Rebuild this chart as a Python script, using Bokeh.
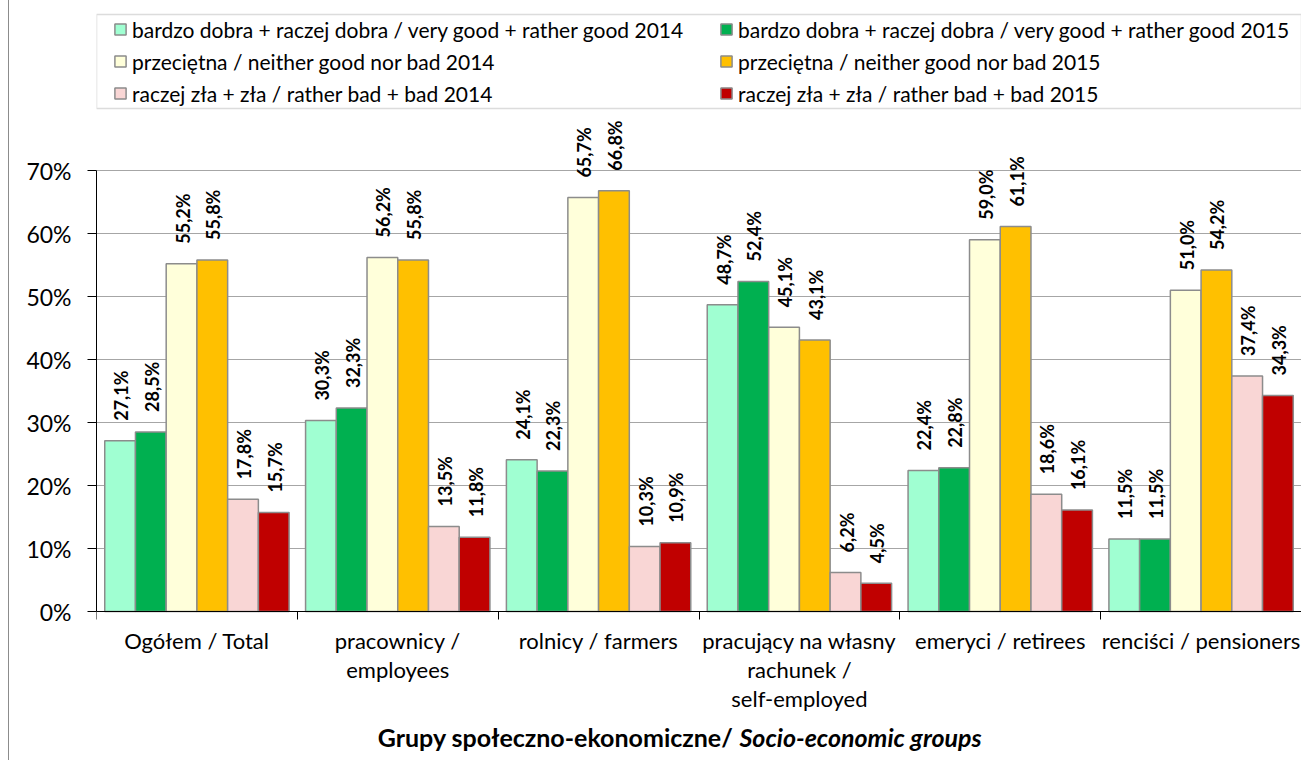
import math
from bokeh.plotting import figure
from bokeh.models import (Range1d, FixedTicker, PrintfTickFormatter, ColumnDataSource,
                          Legend, LegendItem, Label, BoxAnnotation)
from bokeh.layouts import column
from bokeh.transform import dodge
from bokeh.core.properties import value
from bokeh.embed import file_html
from bokeh.resources import INLINE

# ---------------- data ----------------
categories = [
    "Ogółem / Total",
    "pracownicy /\nemployees",
    "rolnicy / farmers",
    "pracujący na własny\nrachunek /\nself-employed",
    "emeryci / retirees",
    "renciści / pensioners",
]
good_2014 = [27.1, 30.3, 24.1, 48.7, 22.4, 11.5]
good_2015 = [28.5, 32.3, 22.3, 52.4, 22.8, 11.5]
neutral_2014 = [55.2, 56.2, 65.7, 45.1, 59.0, 51.0]
neutral_2015 = [55.8, 55.8, 66.8, 43.1, 61.1, 54.2]
bad_2014 = [17.8, 13.5, 10.3, 6.2, 18.6, 37.4]
bad_2015 = [15.7, 11.8, 10.9, 4.5, 16.1, 34.3]

series_names = [
    "bardzo dobra + raczej dobra / very good + rather good 2014",
    "bardzo dobra + raczej dobra / very good + rather good 2015",
    "przeciętna / neither good nor bad 2014",
    "przeciętna / neither good nor bad 2015",
    "raczej zła + zła / rather bad + bad 2014",
    "raczej zła + zła / rather bad + bad 2015",
]
series_values = [good_2014, good_2015, neutral_2014, neutral_2015, bad_2014, bad_2015]
colors = ["#A0FFD2", "#00B050", "#FFFFDA", "#FFC000", "#F9D6D5", "#C00000"]
y_ticks = [0, 10, 20, 30, 40, 50, 60, 70]
y_max = 70
x_title_bold = "Grupy społeczno-ekonomiczne/"
x_title_italic = "Socio-economic groups"

# ---------------- layout constants (pixels) ----------------
FONT = "Lato"
EDGE = "#8c8c8c"
BW = 0.153                 # bar width as a fraction of a group
FRAME_LEFT_PX = 96         # page x of plot-area left edge
FRAME_W = 1205
FRAME_TOP_PX = 12          # page y of frame top
ZERO_PX = 611              # page y of the 0% line
TOP_PX = 170               # page y of the 70% line
FRAME_BOTTOM_PX = 755
PXU = (ZERO_PX - TOP_PX) / y_max   # pixels per percent

n = len(categories)
GROUP_PX = FRAME_W / n


def ypx(py):
    return (ZERO_PX - py) / PXU


def xpx(px):
    return (px - FRAME_LEFT_PX) / GROUP_PX


centers = [i + 0.5 for i in range(n)]
boundaries = [float(i) for i in range(n + 1)]

data = {"x": centers, "cat": categories, "zero": [0] * n}
for j, vals in enumerate(series_values):
    data[f"s{j}"] = vals
    data[f"l{j}"] = [f"{v:.1f}".replace(".", ",") + "%" for v in vals]
src = ColumnDataSource(data)

p = figure(frame_width=FRAME_W, frame_height=FRAME_BOTTOM_PX - FRAME_TOP_PX,
           x_range=Range1d(0, n), y_range=Range1d(ypx(FRAME_BOTTOM_PX), ypx(FRAME_TOP_PX)),
           output_backend="svg", toolbar_location=None,
           min_border_left=FRAME_LEFT_PX - 9, min_border_right=0,
           min_border_top=FRAME_TOP_PX, min_border_bottom=5)
p.outline_line_color = None
p.background_fill_color = "white"

renderers = []
for j in range(len(series_values)):
    off = (j - 2.5) * BW
    r = p.vbar(x=dodge("x", off, range=p.x_range), top=f"s{j}", width=BW, source=src,
               fill_color=colors[j], line_color=EDGE, line_width=1.5)
    renderers.append(r)
    p.text(x=dodge("x", off, range=p.x_range), y=f"s{j}", text=f"l{j}", source=src,
           angle=math.pi / 2, text_align="left", text_baseline="middle",
           x_offset=1, y_offset=-20,
           text_font=value(FONT), text_font_style="bold", text_font_size="18px",
           text_color="black")

# category labels under the axis
p.text(x="x", y="zero", text="cat", source=src, text_align="center", text_baseline="top",
       y_offset=15, text_line_height=1.08,
       text_font=value(FONT), text_font_size="22px", text_color="black")

# y axis
p.yaxis.ticker = FixedTicker(ticks=y_ticks)
p.yaxis.bounds = (0, y_max)
p.yaxis.formatter = PrintfTickFormatter(format="%d%%")
p.yaxis.major_label_text_font = FONT
p.yaxis.major_label_text_font_size = "23px"
p.yaxis.major_label_text_color = "black"
p.yaxis.major_tick_out = 9
p.yaxis.major_tick_in = 0
p.yaxis.minor_tick_out = 0
p.yaxis.minor_tick_in = 0
p.yaxis.major_label_standoff = 16
p.yaxis.axis_line_color = "black"
p.yaxis.major_tick_line_color = "black"

# x axis at 0% with tick marks between the groups
p.xaxis.fixed_location = 0
p.xaxis.ticker = FixedTicker(ticks=[], minor_ticks=boundaries)
p.xaxis.major_label_standoff = 0
p.xaxis.major_tick_out = 0
p.xaxis.major_tick_in = 0
p.xaxis.minor_tick_out = 8
p.xaxis.minor_tick_in = 0
p.xaxis.minor_tick_line_color = "black"
p.xaxis.axis_line_color = "black"

p.ygrid.ticker = FixedTicker(ticks=y_ticks)
p.ygrid.grid_line_color = "#a6a6a6"
p.xgrid.grid_line_color = None

# x axis title (bold + bold italic parts)
TITLE_Y = ypx(736)
p.add_layout(Label(x=xpx(733), y=TITLE_Y, text=x_title_bold, text_align="right",
                   text_baseline="middle", text_font=FONT, text_font_style="bold",
                   text_font_size="25px", text_color="black"))
p.add_layout(Label(x=xpx(739), y=TITLE_Y, text=x_title_italic, text_align="left",
                   text_baseline="middle", text_font=FONT, text_font_style="bold italic",
                   text_font_size="25px", text_color="black"))

# legend: box + two columns
p.add_layout(BoxAnnotation(left=0, right=n, top=ypx(14), bottom=ypx(108),
                           fill_alpha=0, line_color=EDGE, line_width=1.5))


def make_legend(idx, loc):
    return Legend(items=[LegendItem(label=series_names[j], renderers=[renderers[j]]) for j in idx],
                  location=loc, orientation="vertical", padding=0, spacing=6, margin=0,
                  glyph_width=14, glyph_height=14, label_height=26, label_standoff=5,
                  label_text_font=FONT, label_text_font_size="21px", label_text_color="black",
                  border_line_alpha=0, background_fill_alpha=0)


LEG_BOTTOM = FRAME_BOTTOM_PX - 106
p.add_layout(make_legend([0, 2, 4], (17, LEG_BOTTOM)))
p.add_layout(make_legend([1, 3, 5], (623, LEG_BOTTOM)))

layout = column(p, styles={"margin-left": "8px", "border-left": "1px solid #8c8c8c"})

open("out.html", "w").write(file_html(layout, INLINE))
